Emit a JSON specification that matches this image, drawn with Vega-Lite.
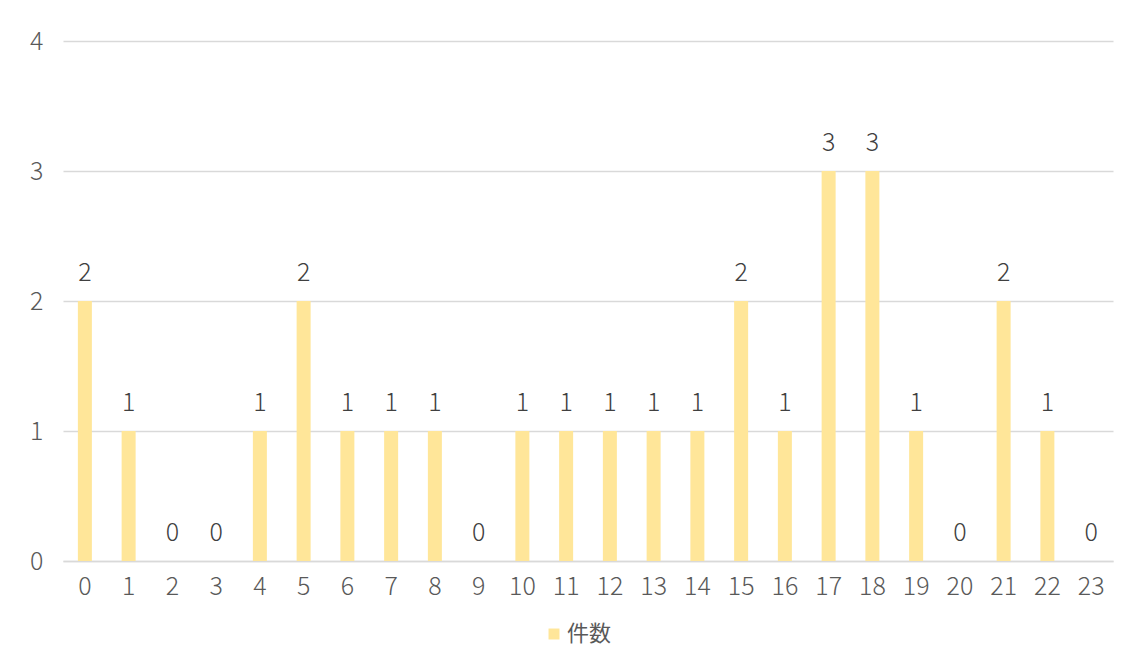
{
  "$schema": "https://vega.github.io/schema/vega-lite/v6.json",
  "width": 1050,
  "height": 520,
  "autosize": {"type": "none"},
  "padding": {"left": 63, "top": 41, "right": 18, "bottom": 105},
  "background": "white",
  "data": {"values": [
    {"hour": "0", "count": 2}, {"hour": "1", "count": 1}, {"hour": "2", "count": 0}, {"hour": "3", "count": 0},
    {"hour": "4", "count": 1}, {"hour": "5", "count": 2}, {"hour": "6", "count": 1}, {"hour": "7", "count": 1},
    {"hour": "8", "count": 1}, {"hour": "9", "count": 0}, {"hour": "10", "count": 1}, {"hour": "11", "count": 1},
    {"hour": "12", "count": 1}, {"hour": "13", "count": 1}, {"hour": "14", "count": 1}, {"hour": "15", "count": 2},
    {"hour": "16", "count": 1}, {"hour": "17", "count": 3}, {"hour": "18", "count": 3}, {"hour": "19", "count": 1},
    {"hour": "20", "count": 0}, {"hour": "21", "count": 2}, {"hour": "22", "count": 1}, {"hour": "23", "count": 0}
  ]},
  "config": {
    "view": {"stroke": null},
    "font": "Noto Sans CJK JP",
    "axis": {"labelFont": "Noto Sans CJK JP", "labelColor": "#595959", "labelFontSize": 25, "labelFontWeight": 300}
  },
  "encoding": {
    "x": {"field": "hour", "type": "ordinal", "sort": null,
      "scale": {"paddingInner": 0.68, "paddingOuter": 0.34},
      "axis": {"title": null, "labelAngle": 0, "ticks": false, "domainColor": "#d9d9d9", "domainWidth": 1.5, "labelPadding": 13}},
    "y": {"field": "count", "type": "quantitative",
      "scale": {"domain": [0, 4]},
      "axis": {"title": null, "values": [0, 1, 2, 3, 4], "labelOverlap": false, "domain": false, "ticks": false, "gridColor": "#d9d9d9", "gridWidth": 1.5, "labelPadding": 20}}
  },
  "layer": [
    {
      "mark": {"type": "bar", "color": "#FFE699"},
      "encoding": {
        "color": {"datum": "件数", "type": "nominal", "scale": {"range": ["#FFE699"]},
          "legend": {"title": null, "orient": "none", "legendX": 480, "legendY": 582, "symbolType": "square", "symbolSize": 120, "symbolStrokeWidth": 0, "labelFontSize": 22, "labelColor": "#595959", "labelFont": "Noto Sans CJK JP", "labelOffset": 2}}
      }
    },
    {
      "mark": {"type": "text", "dy": -28, "fontSize": 25, "fontWeight": 300, "color": "#404040", "font": "Noto Sans CJK JP"},
      "encoding": {"text": {"field": "count", "type": "quantitative"}}
    }
  ]
}
